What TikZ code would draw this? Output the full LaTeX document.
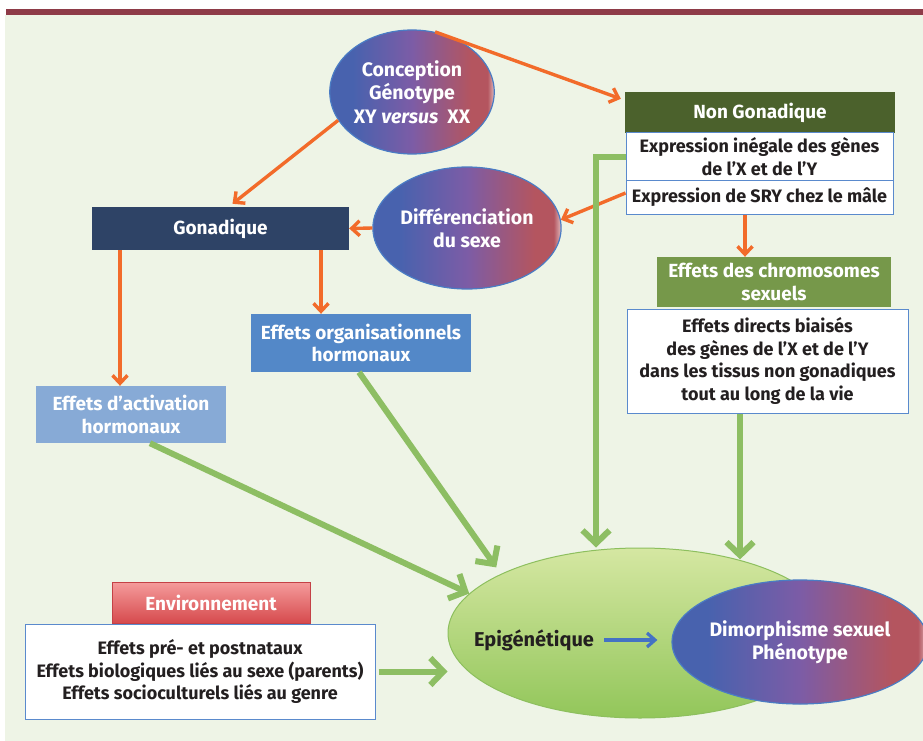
\documentclass[tikz,border=0pt]{standalone}
\usepackage{fontspec}
\setmainfont{Fira Sans}
\usepackage{xcolor}
\usetikzlibrary{arrows.meta}
\usetikzlibrary{shapes.geometric}

\definecolor{bggreen}{HTML}{EEF4E6}
\definecolor{barred}{HTML}{8E3B48}
\definecolor{ellblue}{HTML}{4862AE}
\definecolor{ellpurple}{HTML}{7C5CA6}
\definecolor{ellred}{HTML}{B4555F}
\definecolor{elledge}{HTML}{4A7CC4}
\definecolor{olivedark}{HTML}{4B612C}
\definecolor{olivemid}{HTML}{76984A}
\definecolor{navy}{HTML}{2E4366}
\definecolor{midblue}{HTML}{5388C8}
\definecolor{lightblue}{HTML}{87AAD6}
\definecolor{boxedge}{HTML}{5A8ACD}
\definecolor{arrorange}{HTML}{F26B2A}
\definecolor{arrgreen}{HTML}{8DBE63}
\definecolor{arrblue}{HTML}{4472C4}
\definecolor{epitop}{HTML}{D5E7A2}
\definecolor{epibot}{HTML}{92C65A}
\definecolor{epiedge}{HTML}{8DBF5E}
\definecolor{envtop}{HTML}{F59C9C}
\definecolor{envbot}{HTML}{D64A4D}
\definecolor{envedge}{HTML}{C44146}
\definecolor{txtdark}{HTML}{231F20}

\pgfdeclarehorizontalshading{sexshade}{100bp}{color(0bp)=(ellblue); color(25bp)=(ellblue); color(32bp)=(ellblue); color(50bp)=(ellpurple); color(68bp)=(ellred); color(73bp)=(ellred); color(75bp)=(ellred!40!white); color(100bp)=(ellred!40!white)}

\begin{document}
\begin{tikzpicture}[x = 1pt, y = -1pt,
	sexoval/.style = {ellipse, draw = elledge, line width = 1.2pt, shading = sexshade, inner sep = 0pt, align = center, text = white, font = \bfseries\fontsize{19.5}{23.5}\selectfont},
	hdr/.style = {rectangle, inner sep = 0pt, align = center, text = white, font = \bfseries\fontsize{19}{22.5}\selectfont},
	wbox/.style = {rectangle, draw = boxedge, line width = 1pt, fill = white, inner sep = 0pt, align = center, text = txtdark, font = \bfseries\fontsize{18}{22.5}\selectfont},
	oarrow/.style = {draw = arrorange, line width = 3.4pt, -{Straight Barb[length = 8pt, width = 15pt]}},
	garrow/.style = {draw = arrgreen, line width = 6pt, -{Straight Barb[length = 13pt, width = 27pt]}}]

	\useasboundingbox (0,0) rectangle (923,741);
	\fill[white] (0,0) rectangle (923,741);
	\fill[bggreen] (5,15) rectangle (923,741);
	\fill[barred] (6,9) rectangle (923,15);

	% top part
	\node[sexoval, minimum width = 164, minimum height = 124] (concep) at (412,92) {Conception\\Génotype\\XY \textit{versus}\ \ XX};
	\node[hdr, fill = olivedark, minimum width = 270, minimum height = 41] (nongon) at (760,112.5) {Non Gonadique};
	\node[wbox, minimum width = 267, minimum height = 47] (expr) at (759.5,156.5) {Expression inégale des gènes\\de l’X et de l’Y};
	\node[wbox, minimum width = 267, minimum height = 34] (sry) at (759.5,197) {Expression de SRY chez le mâle};
	\node[sexoval, minimum width = 168, minimum height = 122] (diff) at (467,228) {Différenciation\\du sexe};
	\node[hdr, fill = navy, minimum width = 257, minimum height = 43] (gonad) at (220.5,228.5) {Gonadique};

	% hormonal effects
	\node[hdr, fill = midblue, minimum width = 220, minimum height = 58] (organ) at (361,343) {Effets organisationnels\\hormonaux};
	\node[hdr, fill = lightblue, minimum width = 190, minimum height = 57] (activ) at (131,414.5) {Effets d’activation\\hormonaux};

	% chromosomes
	\node[hdr, fill = olivemid, minimum width = 234, minimum height = 50] (chromo) at (774,282) {Effets des chromosomes\\sexuels};
	\node[wbox, minimum width = 281, minimum height = 104] (direct) at (767.5,361) {Effets directs biaisés\\des gènes de l’X et de l’Y\\dans les tissus non gonadiques\\tout au long de la vie};

	% environment
	\node[hdr, draw = envedge, line width = 1pt, top color = envtop, bottom color = envbot, minimum width = 198, minimum height = 41] (env) at (211,602.5) {Environnement};
	\node[wbox, minimum width = 350, minimum height = 95] (envbox) at (200,671.5) {Effets pré- et postnataux\\Effets biologiques liés au sexe (parents)\\Effets socioculturels liés au genre};

	% bottom
	\node[ellipse, draw = epiedge, line width = 1pt, top color = epitop, bottom color = epibot, minimum width = 384, minimum height = 170, inner sep = 0pt] (epi) at (640,633) {};
	\node[text = txtdark, font = \bfseries\fontsize{20}{24}\selectfont, inner sep = 2pt] (epitxt) at (534,640) {Epigénétique};
	\node[sexoval, minimum width = 246, minimum height = 124] (dimor) at (800,642) {Dimorphisme sexuel\\Phénotype};

	\draw[oarrow] (concep.69) -- ([xshift = -4pt, yshift = -7pt]nongon.north west);
	\draw[oarrow] (concep.201) -- ([xshift = 12pt, yshift = 3pt]gonad.north);
	\draw[oarrow] ([yshift = 4pt]sry.west) -- (diff.5);
	\draw[oarrow] (diff.west) -- (gonad.east);
	\draw[oarrow] ([xshift = -100.5pt]gonad.south) -- ([xshift = -100.5pt]gonad.south |- activ.north);
	\draw[oarrow] ([xshift = 100.5pt]gonad.south) -- ([xshift = 100.5pt]gonad.south |- organ.north);
	\draw[oarrow] ([xshift = -14.5pt]sry.south) -- ([xshift = -14.5pt]sry.south |- chromo.north);

	\draw[garrow] ([xshift = 19pt]activ.south) -- (epi.167);
	\draw[garrow, shorten > = 8pt] ([xshift = -2pt]organ.south) -- (epi.157);
	\draw[garrow] (expr.west) -| ([xshift = -44pt]epi.north);
	\draw[garrow] ([xshift = -27.5pt]direct.south) -- ([xshift = -27.5pt]direct.south |- epi.37);
	\draw[garrow, shorten < = 3pt] (envbox.east) -- (envbox.east -| epi.west);

	\draw[draw = arrblue, line width = 3.2pt, -{Straight Barb[length = 8pt, width = 14pt]}, shorten < = 8pt, shorten > = 14pt] (epitxt.east) -- (epitxt.east -| dimor.west);

\end{tikzpicture}
\end{document}
